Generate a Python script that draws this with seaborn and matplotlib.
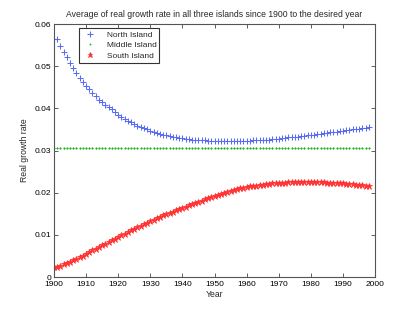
import matplotlib
matplotlib.use("Agg")
import matplotlib.pyplot as plt
import seaborn as sns
import pandas as pd

years = list(range(1900, 1999))

north_island = [
    0.0564, 0.0564, 0.0548, 0.0533, 0.0521, 0.0507, 0.0496, 0.0484, 0.0473, 0.0463,
    0.0454, 0.0445, 0.0437, 0.0429, 0.0421, 0.0414, 0.0408, 0.0403, 0.0398, 0.0391,
    0.0385, 0.0380, 0.0375, 0.0371, 0.0367, 0.0363, 0.0359, 0.0356, 0.0353, 0.0350,
    0.0347, 0.0345, 0.0342, 0.0340, 0.0338, 0.0336, 0.0334, 0.0333, 0.0331, 0.0330,
    0.0329, 0.0328, 0.0327, 0.0326, 0.0325, 0.0325, 0.0324, 0.0324, 0.0323, 0.0323,
    0.0323, 0.0323, 0.0322, 0.0322, 0.0322, 0.0322, 0.0322, 0.0322, 0.0323, 0.0323,
    0.0323, 0.0323, 0.0324, 0.0324, 0.0325, 0.0325, 0.0326, 0.0326, 0.0327, 0.0328,
    0.0328, 0.0329, 0.0330, 0.0331, 0.0332, 0.0332, 0.0333, 0.0334, 0.0335, 0.0336,
    0.0337, 0.0338, 0.0339, 0.0340, 0.0341, 0.0342, 0.0343, 0.0344, 0.0345, 0.0346,
    0.0347, 0.0348, 0.0349, 0.0350, 0.0351, 0.0352, 0.0353, 0.0354, 0.0356,
]

middle_island = [
    0.0305, 0.0305, 0.0305, 0.0305, 0.0305, 0.0305, 0.0305, 0.0305, 0.0305, 0.0305,
    0.0305, 0.0305, 0.0305, 0.0305, 0.0305, 0.0305, 0.0305, 0.0305, 0.0305, 0.0305,
    0.0305, 0.0305, 0.0305, 0.0305, 0.0305, 0.0305, 0.0305, 0.0305, 0.0305, 0.0305,
    0.0305, 0.0305, 0.0305, 0.0305, 0.0305, 0.0305, 0.0305, 0.0305, 0.0305, 0.0305,
    0.0305, 0.0305, 0.0305, 0.0305, 0.0305, 0.0305, 0.0305, 0.0305, 0.0305, 0.0305,
    0.0305, 0.0305, 0.0305, 0.0305, 0.0305, 0.0305, 0.0305, 0.0305, 0.0305, 0.0305,
    0.0305, 0.0305, 0.0305, 0.0305, 0.0305, 0.0305, 0.0305, 0.0305, 0.0305, 0.0305,
    0.0305, 0.0305, 0.0305, 0.0305, 0.0305, 0.0305, 0.0305, 0.0305, 0.0305, 0.0305,
    0.0305, 0.0305, 0.0305, 0.0305, 0.0305, 0.0305, 0.0305, 0.0305, 0.0305, 0.0305,
    0.0305, 0.0305, 0.0305, 0.0305, 0.0305, 0.0305, 0.0305, 0.0305, 0.0305,
]

south_island = [
    0.0023, 0.0025, 0.0027, 0.0030, 0.0033, 0.0036, 0.0040, 0.0043, 0.0047, 0.0051,
    0.0055, 0.0059, 0.0063, 0.0067, 0.0071, 0.0075, 0.0079, 0.0083, 0.0087, 0.0091,
    0.0095, 0.0099, 0.0103, 0.0107, 0.0111, 0.0114, 0.0118, 0.0122, 0.0125, 0.0129,
    0.0132, 0.0136, 0.0139, 0.0142, 0.0146, 0.0149, 0.0152, 0.0155, 0.0158, 0.0161,
    0.0164, 0.0167, 0.0170, 0.0173, 0.0176, 0.0179, 0.0181, 0.0184, 0.0187, 0.0190,
    0.0193, 0.0195, 0.0198, 0.0200, 0.0202, 0.0204, 0.0206, 0.0208, 0.0210, 0.0212,
    0.0213, 0.0215, 0.0216, 0.0217, 0.0218, 0.0219, 0.0220, 0.0221, 0.0222, 0.0223,
    0.0223, 0.0224, 0.0224, 0.0225, 0.0225, 0.0225, 0.0226, 0.0226, 0.0226, 0.0226,
    0.0226, 0.0226, 0.0226, 0.0225, 0.0225, 0.0224, 0.0224, 0.0223, 0.0223, 0.0222,
    0.0222, 0.0221, 0.0220, 0.0220, 0.0219, 0.0218, 0.0218, 0.0217, 0.0216,
]

series_names = ["North Island", "Middle Island", "South Island"]
x_ticks = [1900, 1910, 1920, 1930, 1940, 1950, 1960, 1970, 1980, 1990, 2000]
y_ticks = [0, 0.01, 0.02, 0.03, 0.04, 0.05, 0.06]
y_tick_labels = ["0", "0.01", "0.02", "0.03", "0.04", "0.05", "0.06"]

sns.set_style("ticks")
plt.rcParams["font.family"] = ["Liberation Sans", "DejaVu Sans"]

fig = plt.figure(figsize=(4.15, 3.12), dpi=100)
ax = fig.add_axes([0.13, 0.112, 0.774, 0.811])

blue, green, red = "#5a6cf5", "#1fb01f", "#ff3030"
styles = [
    dict(marker="+", color=blue, markeredgecolor=blue, markerfacecolor=blue,
         markersize=5.0, markeredgewidth=0.75),
    dict(marker=".", color=green, markeredgecolor=green, markerfacecolor=green,
         markersize=2.2, markeredgewidth=0.4),
    dict(marker="*", color=red, markeredgecolor=red, markerfacecolor=red,
         markersize=4.6, markeredgewidth=0.5),
]
for name, vals, st in zip(series_names, [north_island, middle_island, south_island], styles):
    df = pd.DataFrame({"Year": years, "rate": vals})
    sns.lineplot(data=df, x="Year", y="rate", ax=ax, linestyle="none",
                 label=name, errorbar=None, **st)

ax.set_xlim(1900, 2000)
ax.set_ylim(0, 0.06)
ax.set_xticks(x_ticks)
ax.set_xticklabels([str(t) for t in x_ticks])
ax.set_yticks(y_ticks)
ax.set_yticklabels(y_tick_labels)
ax.tick_params(direction="in", length=3, width=0.6, labelsize=6,
               top=True, right=True, colors="#444444", labelcolor="black", pad=2)
ax.tick_params(axis="x", pad=3)
for sp in ax.spines.values():
    sp.set_visible(True)
    sp.set_linewidth(0.8)
    sp.set_color("#555555")

ax.set_xlabel("Year", fontsize=6.2, labelpad=1)
ax.set_ylabel("Real growth rate", fontsize=6.2, labelpad=4)
ax.set_title("Average of real growth rate in all three islands since 1900 to the desired year",
             fontsize=6.2, pad=5)

leg = ax.legend(loc="upper left", bbox_to_anchor=(0.077, 0.985), fontsize=6.0,
                frameon=True, fancybox=False, edgecolor="#333333", framealpha=1,
                handlelength=2.0, handletextpad=1.0, borderpad=0.35, labelspacing=0.35,
                borderaxespad=0, markerscale=0.8)
leg.get_frame().set_linewidth(0.8)

fig.savefig("out.png", dpi=100)
